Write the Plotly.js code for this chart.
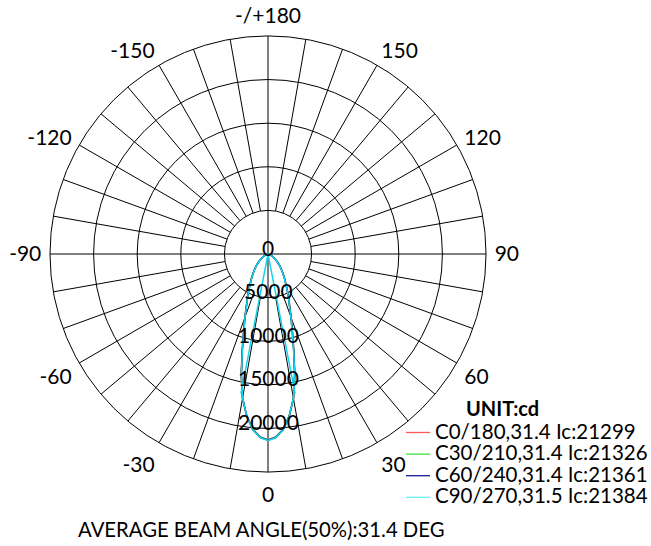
<!DOCTYPE html>
<html>
<head>
<meta charset="utf-8">
<script src="https://cdn.plot.ly/plotly-3.0.1.min.js"></script>
<style>html,body{margin:0;padding:0;background:#fff;}#chart{width:651px;height:546px;}</style>
</head>
<body>
<div id="chart"></div>
<script>
// ---- data (candela) ----
const gammaDeg = [0, 2.5, 5, 7.5, 10, 12.5, 15, 17.5, 20, 22.5, 25, 27.5, 30, 35, 40, 45, 50, 55, 60, 70, 80, 90];
const planeNames = ["C0/180", "C30/210", "C60/240", "C90/270"];
const beamAngles = ["31.4", "31.4", "31.4", "31.5"];
const icValues = [21299, 21326, 21361, 21384];
const avgBeamAngle = "31.4";
const c0_180   = [21299, 20990, 20150, 18700, 16850, 14230, 11470, 9350, 7820, 6540, 5660, 4890, 4240, 3260, 2490, 1900, 1400, 1010, 690, 300, 110, 0];
const c30_210  = [21326, 21010, 20170, 18700, 16810, 14160, 11390, 9270, 7750, 6470, 5600, 4840, 4200, 3230, 2470, 1890, 1390, 1000, 680, 300, 110, 0];
const c60_240  = [21361, 21040, 20190, 18710, 16800, 14130, 11360, 9230, 7720, 6440, 5580, 4820, 4180, 3220, 2460, 1880, 1390, 1000, 680, 300, 110, 0];
const c90_270  = [21384, 21064, 20210, 18710, 16790, 14110, 11330, 9200, 7700, 6420, 5560, 4810, 4170, 3210, 2460, 1880, 1390, 1000, 680, 300, 110, 0];
const c90InnerTheta = [-11, 0, 11];
const c90InnerR = [16300, 0, 16300];
const radialTicks = [0, 5000, 10000, 15000, 20000];
const radialMax = 25000;
const angleTickVals = [0, 30, 60, 90, 120, 150, 180, 210, 240, 270, 300, 330];
const angleTickText = ["0", "30", "60", "90", "120", "150", "-/+180", "-150", "-120", "-90", "-60", "-30"];
const unitLabel = "UNIT:cd";

// ---- styles ----
const FONT = "Lato, 'Open Sans', sans-serif";
const colors = ["#ff4040", "#33dd33", "#00008c", "#14d4ee"];
const legendColors = ["#ff5a5a", "#40e040", "#1a1a9a", "#66f4fa"];
const series = [c0_180, c30_210, c60_240, c90_270];

function fullCurve(vals) {
  // C-plane: one half on the right (+gamma), the opposite half on the left (-gamma)
  const th = [], r = [];
  for (let i = gammaDeg.length - 1; i >= 1; i--) { th.push(-gammaDeg[i]); r.push(vals[i]); }
  for (let i = 0; i < gammaDeg.length; i++) { th.push(gammaDeg[i]); r.push(vals[i]); }
  return {th, r};
}

const traces = [];
// invisible cartesian overlay (same scale as polar) used to anchor the radial value labels
traces.push({type: 'scatter', x: [], y: [], showlegend: false, hoverinfo: 'skip'});

// grid spokes
const spokeTh = [], spokeR = [];
for (let a = 0; a < 360; a += 10) {
  const full = (a % 90 === 0);
  spokeTh.push(a, a, null);
  spokeR.push(full ? 0 : 5000, radialMax, null);
}
traces.push({
  type: 'scatterpolar', mode: 'lines', theta: spokeTh, r: spokeR,
  line: {color: '#000', width: 1}, showlegend: false, hoverinfo: 'skip', connectgaps: false
});

series.forEach((vals, k) => {
  const c = fullCurve(vals);
  traces.push({
    type: 'scatterpolar', mode: 'lines', theta: c.th, r: c.r,
    name: planeNames[k] + "," + beamAngles[k] + " Ic:" + icValues[k],
    line: {color: colors[k], width: 1.5}, hoverinfo: 'skip', showlegend: false
  });
});
traces.push({
  type: 'scatterpolar', mode: 'lines', theta: c90InnerTheta, r: c90InnerR,
  line: {color: colors[3], width: 1.5}, showlegend: false, hoverinfo: 'skip'
});

const cx = 268, cy = 254, R = 218, W = 651, H = 546;
const domX = [(cx - R) / W, (cx + R) / W];
const domY = [(H - cy - R) / H, (H - cy + R) / H];

const annotations = [];
// radial value labels along the 0 (downward) direction
radialTicks.forEach(v => {
  annotations.push({
    text: String(v), xref: 'x', yref: 'y', x: 0, y: -v, xanchor: 'center', yanchor: 'middle',
    yshift: 7, showarrow: false, font: {family: FONT, size: 21, color: '#000'}
  });
});
// unit + legend (manual, compact rows)
annotations.push({
  text: "<b>" + unitLabel + "</b>", xref: 'paper', yref: 'paper', x: 502 / W, y: 1 - 408 / H,
  xanchor: 'center', yanchor: 'middle', showarrow: false, font: {family: FONT, size: 20, color: '#000'}
});
const shapes = [];
planeNames.forEach((p, k) => {
  const yc = 430.5 + 21.6 * k;
  annotations.push({
    text: p + "," + beamAngles[k] + " Ic:" + icValues[k], xref: 'paper', yref: 'paper',
    x: 433 / W, y: 1 - yc / H, xanchor: 'left', yanchor: 'middle', showarrow: false,
    font: {family: FONT, size: 20.5, color: '#000'}
  });
  shapes.push({
    type: 'line', xref: 'paper', yref: 'paper', x0: 406 / W, x1: 430 / W,
    y0: 1 - (yc + 2) / H, y1: 1 - (yc + 2) / H, line: {color: legendColors[k], width: 1.3}
  });
});
annotations.push({
  text: "AVERAGE BEAM ANGLE(50%):" + avgBeamAngle + " DEG", xref: 'paper', yref: 'paper', x: 261 / W, y: 1 - 529 / H,
  xanchor: 'center', yanchor: 'middle', showarrow: false, font: {family: FONT, size: 20.3, color: '#000'}
});

const layout = {
  width: W, height: H,
  margin: {l: 0, r: 0, t: 0, b: 0},
  paper_bgcolor: '#fff', plot_bgcolor: 'rgba(0,0,0,0)',
  showlegend: false,
  font: {family: FONT, color: '#000'},
  xaxis: {domain: domX, range: [-radialMax, radialMax], visible: false, fixedrange: true},
  yaxis: {domain: domY, range: [-radialMax, radialMax], visible: false, fixedrange: true},
  polar: {
    domain: {x: domX, y: domY},
    bgcolor: '#fff',
    radialaxis: {
      range: [0, radialMax], tickvals: radialTicks.slice(1), showticklabels: false, ticks: '',
      showline: false, showgrid: true, gridcolor: '#000', gridwidth: 1
    },
    angularaxis: {
      rotation: 270, direction: 'counterclockwise',
      tickmode: 'array', tickvals: angleTickVals, ticktext: angleTickText,
      ticks: 'outside', ticklen: 4, tickcolor: 'rgba(0,0,0,0)',
      showgrid: false, showline: true, linecolor: '#000', linewidth: 1,
      tickfont: {family: FONT, size: 21, color: '#000'}
    }
  },
  annotations: annotations,
  shapes: shapes
};

Plotly.newPlot('chart', traces, layout, {displayModeBar: false, staticPlot: true});
</script>
</body>
</html>
